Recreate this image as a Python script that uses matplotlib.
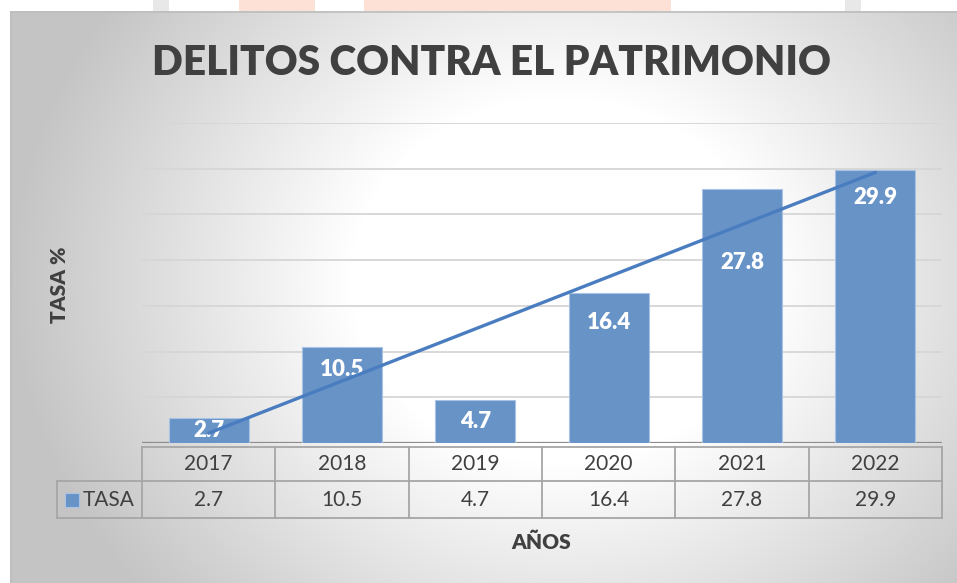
import numpy as np
import matplotlib
matplotlib.use('Agg')
import matplotlib.pyplot as plt
from matplotlib.patches import Rectangle
import matplotlib.transforms as mtransforms

plt.rcParams['font.family'] = ['Lato', 'DejaVu Sans']

# ---------------- data ----------------
years = ['2017', '2018', '2019', '2020', '2021', '2022']
tasa = [2.7, 10.5, 4.7, 16.4, 27.8, 29.9]
series_name = 'TASA'
title_text = 'DELITOS CONTRA EL PATRIMONIO'
ylabel_text = 'TASA %'
xlabel_text = 'AÑOS'

# label placement (styling: vertical centre of each data label, in data units)
label_pos = [1.35, 8.0, 2.35, 13.2, 19.7, 26.9]

W, H = 957, 583
fig = plt.figure(figsize=(W / 100, H / 100), dpi=100)

# ---------------- background ----------------
bg = fig.add_axes([0, 0, 1, 1])
yy, xx = np.mgrid[0:H, 0:W]
d = np.hypot(xx - 560, (yy - 280) * 1.15)
g = 1 - 0.23 * np.clip((d - 210) / 340, 0, 1)
img = np.dstack([g, g, g])
img[:11, :, :] = 1.0
img[:, :10, :] = 1.0
bg.imshow(img, extent=[0, W, H, 0], aspect='auto', interpolation='bilinear')
bg.set_xlim(0, W)
bg.set_ylim(H, 0)
bg.axis('off')
for (x0, w, c) in [(239, 76, '#fde0d6'), (364, 307, '#fde0d6'),
                   (153, 16, '#e8e8e8'), (845, 16, '#e8e8e8')]:
    bg.add_patch(Rectangle((x0, 0), w, 11, color=c, lw=0))
bg.plot([10.5, 10.5], [H, 11.5], color='#bdbdbd', lw=1.2)
bg.plot([10.5, W], [11.5, 11.5], color='#bdbdbd', lw=1.2)

# ---------------- title ----------------
fig.text(491 / W, 1 - 63 / H, title_text, ha='center', va='center',
         fontsize=29.2, fontweight='heavy', color='#404040')

# ---------------- main axes ----------------
ax = fig.add_axes([142 / W, 140 / H, 800 / W, 320 / H])
ax.patch.set_alpha(0)
ax.set_xlim(-0.5, 5.5)
ax.set_ylim(0, 35)
for s in ax.spines.values():
    s.set_visible(False)
ax.set_yticks(np.arange(0, 36, 5))
ax.set_xticks([])
ax.tick_params(left=False, bottom=False, labelleft=False, labelbottom=False)
ax.yaxis.grid(True, color='#d6d6d6', lw=1.3)
ax.set_axisbelow(True)
ax.axhline(0, color='#8c8c8c', lw=1.6, zorder=2)

x = np.arange(len(years))
ax.bar(x, tasa, width=0.6, color='#6793c7', edgecolor='#a8c3e4', lw=0.8, zorder=3)
for i, v in enumerate(tasa):
    ax.text(i, label_pos[i], f'{v}', ha='center', va='center', color='white',
            fontsize=16, fontweight='heavy', zorder=4)

coef = np.polyfit(x, tasa, 1)
ax.plot(x, np.polyval(coef, x), color='#4a7dc0', lw=2.4, zorder=5,
        solid_capstyle='round')

# ---------------- data table ----------------
trans = mtransforms.blended_transform_factory(ax.transData, ax.transAxes)


def fy(py):
    return (443 - py) / 320


def dx(px):
    return -0.5 + (px - 142) / (800 / 6)


lc = '#a6a6a6'
lw = 1.3
xl = dx(57)
ax.plot([-0.5, 5.5], [fy(446.5), fy(446.5)], color=lc, lw=lw, transform=trans, clip_on=False)
ax.plot([xl, 5.5], [fy(481), fy(481)], color=lc, lw=lw, transform=trans, clip_on=False)
ax.plot([xl, 5.5], [fy(518), fy(518)], color=lc, lw=lw, transform=trans, clip_on=False)
for k in range(len(years) + 1):
    xv = -0.5 + k
    ax.plot([xv, xv], [fy(446.5), fy(518)], color=lc, lw=lw, transform=trans, clip_on=False)
ax.plot([xl, xl], [fy(481), fy(518)], color=lc, lw=lw, transform=trans, clip_on=False)

for i, (yr, v) in enumerate(zip(years, tasa)):
    ax.text(i, fy(464), yr, ha='center', va='center', fontsize=15,
            color='#404040', transform=trans, clip_on=False)
    ax.text(i, fy(500), f'{v}', ha='center', va='center', fontsize=15,
            color='#404040', transform=trans, clip_on=False)

ax.add_patch(Rectangle((dx(65), fy(507)), dx(79) - dx(65), fy(493) - fy(507),
                       transform=trans, clip_on=False, facecolor='#6793c7',
                       edgecolor='#a8c3e4', lw=0.8))
ax.text(dx(83), fy(500), series_name, ha='left', va='center', fontsize=15,
        color='#404040', transform=trans, clip_on=False)

# ---------------- axis titles ----------------
fig.text(60 / W, 1 - 285 / H, ylabel_text, rotation=90, ha='center', va='center',
         fontsize=15, fontweight='heavy', color='#404040')
fig.text(541 / W, 1 - 542 / H, xlabel_text, ha='center', va='center',
         fontsize=15, fontweight='heavy', color='#404040')

fig.savefig('out.png', dpi=100)
